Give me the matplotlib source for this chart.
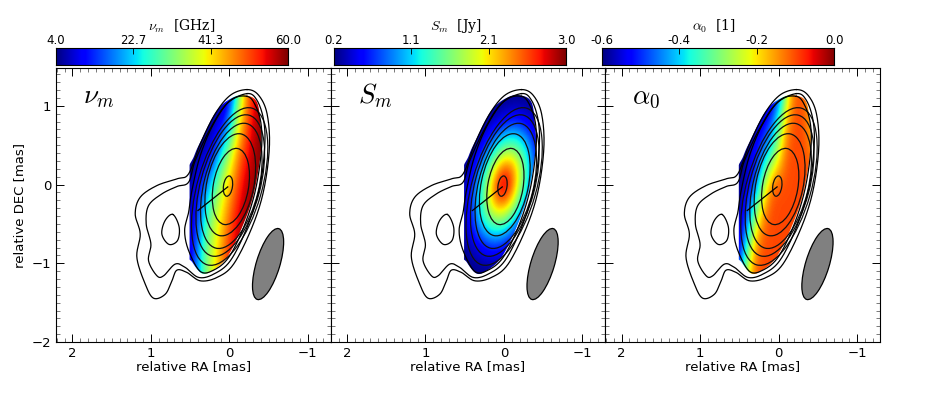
import matplotlib
matplotlib.use('Agg')
from matplotlib import pyplot as plt
from matplotlib.patches import Ellipse, Polygon
from matplotlib.ticker import MultipleLocator
import numpy as np

# grid of the colour maps
ra_cols = [0.6, 0.5, 0.4, 0.3, 0.2, 0.1, 0.0, -0.1, -0.2, -0.3, -0.4, -0.5, -0.6]

nu_m = [
    [4, 4, 4, 4, 4, 4, 8, 24, 43, 52, 58, 60, 60],
    [4, 4, 4, 4, 5, 8, 18, 36, 47, 55, 59, 60, 60],
    [4, 4, 5, 7, 12, 24, 35, 45, 52, 57, 60, 60, 60],
    [4, 6, 10, 17, 26, 36, 43, 50, 56, 58, 59, 60, 60],
    [4, 7, 14, 26, 35, 41, 48, 54, 58, 60, 60, 60, 60],
    [4, 8, 18, 30, 38, 45, 52, 57, 60, 60, 60, 60, 60],
    [5, 10, 20, 32, 40, 47, 54, 58, 60, 60, 60, 60, 60],
]

s_m = [
    [.20, .20, .20, .20, .20, .20, .20, .21, .21, .21, .20, .20, .20],
    [.20, .20, .20, .20, .21, .24, .28, .31, .32, .30, .26, .21, .20],
    [.20, .20, .20, .22, .30, .38, .55, .65, .62, .48, .36, .26, .21],
    [.20, .20, .23, .32, .55, .90, 1.12, 1.20, 1.12, .90, .55, .32, .23],
    [.20, .21, .30, .55, 1.03, 1.43, 1.76, 1.81, 1.57, 1.17, .72, .36, .24],
    [.20, .26, .45, .95, 1.47, 2.10, 2.50, 2.40, 1.87, 1.30, .75, .36, .23],
    [.21, .32, .65, 1.20, 1.83, 2.50, 2.90, 2.50, 1.83, 1.20, .65, .32, .21],
    [.23, .36, .75, 1.30, 1.87, 2.40, 2.50, 2.10, 1.47, .95, .45, .26, .20],
    [.24, .36, .72, 1.17, 1.57, 1.81, 1.76, 1.43, 1.03, .55, .30, .21, .20],
    [.23, .32, .55, .90, 1.12, 1.20, 1.12, .90, .55, .32, .23, .20, .20],
    [.21, .26, .36, .48, .62, .65, .55, .38, .30, .22, .20, .20, .20],
    [.20, .21, .26, .30, .32, .31, .28, .24, .21, .20, .20, .20, .20],
    [.20, .20, .20, .21, .21, .21, .20, .20, .20, .20, .20, .20, .20],
]

alpha_0 = [
    [-.6, -.6, -.6, -.6, -.6, -.6, -.5, -.25, -.12, -.11, -.17, -.2, -.22],
    [-.6, -.6, -.6, -.58, -.55, -.48, -.32, -.15, -.1, -.1, -.18, -.22, -.22],
    [-.6, -.6, -.58, -.52, -.45, -.36, -.22, -.11, -.1, -.1, -.13, -.18, -.2],
    [-.6, -.6, -.55, -.47, -.28, -.12, -.1, -.1, -.1, -.1, -.1, -.12, -.15],
    [-.6, -.58, -.46, -.28, -.13, -.1, -.1, -.1, -.1, -.1, -.1, -.1, -.1],
    [-.6, -.53, -.33, -.14, -.1, -.1, -.1, -.1, -.1, -.1, -.1, -.1, -.1],
    [-.55, -.42, -.2, -.11, -.1, -.1, -.1, -.1, -.1, -.1, -.1, -.1, -.1],
]

panel_names = [r'$\nu_m$', r'$S_m$', r'$\alpha_0$']
cbar_labels = [r'$\nu_m$  [GHz]', r'$S_m$  [Jy]', r'$\alpha_0$  [1]']
cbar_ranges = [(4.0, 60.0), (0.2, 3.0), (-0.6, 0.0)]
cbar_ticks = [['4.0', '22.7', '41.3', '60.0'],
              ['0.2', '1.1', '2.1', '3.0'],
              ['-0.6', '-0.4', '-0.2', '0.0']]

# contour lines in mas (RA, DEC)
outer_x = [-0.226, -0.374, -0.481, -0.511, -0.438, -0.289, -0.055, 0.157, 0.37, 0.54, 0.668, 0.732, 0.817,
           0.966, 1.072, 1.179, 1.136, 1.2, 1.136, 0.923, 0.668, 0.519, 0.37, 0.179, -0.013]
outer_y = [1.206, 1.134, 0.9, 0.476, -0.076, -0.544, -1.01, -1.18, -1.223, -1.117, -1.087, -1.223, -1.393,
           -1.444, -1.265, -0.926, -0.628, -0.374, -0.161, -0.013, 0.072, 0.136, 0.518, 0.9, 1.134]
second_x = [-0.226, -0.353, -0.438, -0.451, -0.387, -0.226, -0.013, 0.2, 0.391, 0.562, 0.689, 0.838, 0.923,
            1.03, 1.0, 1.06, 1.03, 0.86, 0.668, 0.519, 0.434, 0.243, 0.03]
second_y = [1.155, 1.07, 0.815, 0.476, -0.034, -0.544, -0.968, -1.138, -1.18, -1.053, -1.01, -1.159, -1.159,
            -0.968, -0.756, -0.5, -0.268, -0.119, -0.025, 0.03, 0.306, 0.709, 1.028]
third_x = [-0.226, -0.332, -0.404, -0.409, -0.332, -0.183, 0.009, 0.2, 0.37, 0.519, 0.57, 0.519, 0.477, 0.37, 0.2, -0.013]
third_y = [1.12, 1.006, 0.773, 0.433, -0.076, -0.544, -0.926, -1.087, -1.104, -0.84, -0.586, -0.352, -0.076, 0.37, 0.773, 1.07]
hole_x = [0.72, 0.64, 0.66, 0.77, 0.86, 0.82]
hole_y = [-0.38, -0.54, -0.71, -0.76, -0.63, -0.46]

# coloured region, cut off on the left at mask_left
mask_left = 0.507
mask_x = [0.56, 0.45, 0.37, 0.16, -0.055, -0.225, -0.353, -0.396, -0.404, -0.311, -0.162, 0.03, 0.221, 0.349, 0.47, 0.56]
mask_y = [0.05, 0.36, 0.54, 0.94, 1.11, 1.13, 1.045, 0.77, 0.433, -0.119, -0.544, -0.926, -1.096, -1.13, -0.99, -0.8]

# nested contours as ellipses: centre, width, height, tilt
ell_x = [0.017, -0.02, -0.012, -0.025, -0.012, -0.004]
ell_y = [-0.02, -0.025, -0.003, -0.017, -0.013, -0.025]
ell_w = [0.115, 0.45, 0.60, 0.70, 0.76, 0.82]
ell_h = [0.26, 0.98, 1.32, 1.63, 1.85, 2.07]
ell_ang = [8, 10, 12, 14, 15, 16]

jet_ra = [0.02, 0.40]
jet_dec = [-0.03, -0.33]

beam = (-0.494, -1.01, 0.30, 0.94, 17)

cbar_label_px = [182, 456, 714]


def smooth(xs, ys, n=16):
    # catmull-rom through the read points, closed
    p = np.column_stack([xs, ys])
    out = []
    for i in range(len(p)):
        p0, p1, p2, p3 = p[i - 1], p[i], p[(i + 1) % len(p)], p[(i + 2) % len(p)]
        for t in np.linspace(0, 1, n, endpoint=False):
            out.append(0.5 * (2 * p1 + (p2 - p0) * t + (2 * p0 - 5 * p1 + 4 * p2 - p3) * t ** 2
                              + (3 * p1 - p0 - 3 * p2 + p3) * t ** 3))
    out.append(out[0])
    return np.array(out)


def rect(x0, y0, x1, y1):
    # pixel box of the 926x405 picture to figure fractions
    return [x0 / 926, 1 - y1 / 405, (x1 - x0) / 926, (y1 - y0) / 405]


plt.rcParams['font.family'] = 'DejaVu Sans'
plt.rcParams['mathtext.fontset'] = 'cm'
fig = plt.figure(figsize=(9.26, 4.05), dpi=100)

fields = [nu_m, s_m, alpha_0]
ax_boxes = [(56, 68, 330.5, 342), (330.5, 68, 605, 342), (605, 68, 880, 342)]
cb_boxes = [(56, 48, 288, 65), (334, 48, 566, 65), (602, 48, 834, 65)]

for i in range(3):
    ax = fig.add_axes(rect(*ax_boxes[i]))
    z = np.array(fields[i], dtype=float)
    half = 1.2 / (z.shape[0] - 1)
    im = ax.imshow(z, cmap='jet', vmin=cbar_ranges[i][0], vmax=cbar_ranges[i][1], interpolation='bicubic',
                   extent=[ra_cols[0] + 0.05, ra_cols[-1] - 0.05, -1.2 - half, 1.2 + half], aspect='auto')
    m = smooth(mask_x, mask_y)
    m[:, 0] = np.minimum(m[:, 0], mask_left)
    clip = Polygon(m, closed=True, transform=ax.transData, fc='none', ec='none')
    ax.add_patch(clip)
    im.set_clip_path(clip)

    for xs, ys in [(outer_x, outer_y), (second_x, second_y), (third_x, third_y), (hole_x, hole_y)]:
        c = smooth(xs, ys)
        ax.plot(c[:, 0], c[:, 1], color='k', lw=0.9)
    for j in range(len(ell_x)):
        ax.add_patch(Ellipse((ell_x[j], ell_y[j]), ell_w[j], ell_h[j], angle=ell_ang[j], fc='none', ec='#111111', lw=0.9))
    ax.plot(jet_ra, jet_dec, color='k', lw=0.9)
    ax.add_patch(Ellipse(beam[:2], beam[2], beam[3], angle=beam[4], fc='#808080', ec='k', lw=0.9))

    ax.set_xlim(2.21, -1.29)
    ax.set_ylim(-2, 1.48)
    ax.xaxis.set_major_locator(MultipleLocator(1))
    ax.yaxis.set_major_locator(MultipleLocator(1))
    ax.xaxis.set_minor_locator(MultipleLocator(0.1))
    ax.yaxis.set_minor_locator(MultipleLocator(0.1))
    ax.tick_params(which='major', direction='in', top=True, right=True, length=6, width=0.7, labelsize=9.5)
    ax.tick_params(which='minor', direction='in', top=True, right=True, length=3, width=0.5, color='#444444')
    ax.set_xlabel('relative RA [mas]', fontsize=9.5, labelpad=0)
    if i == 0:
        ax.set_ylabel('relative DEC [mas]', fontsize=9.5, labelpad=4)
    else:
        ax.tick_params(labelleft=False)
    ax.text(0.1, 0.845, panel_names[i], transform=ax.transAxes, fontsize=19.5, ha='left', va='bottom')

    cax = fig.add_axes(rect(*cb_boxes[i]))
    grad = np.linspace(cbar_ranges[i][0], cbar_ranges[i][1], 256).reshape(1, -1)
    cax.imshow(grad, cmap='jet', aspect='auto', extent=[0, 3, 0, 1])
    cax.set_yticks([])
    cax.set_xticks([0, 1, 2, 3])
    cax.set_xticklabels(cbar_ticks[i], fontsize=8.5)
    cax.xaxis.tick_top()
    cax.tick_params(axis='x', direction='in', length=4, width=0.6, pad=1)
    fig.text(cbar_label_px[i] / 926, 1 - 26 / 405, cbar_labels[i], fontsize=10, family='serif', ha='center', va='center')

fig.savefig('out.png', dpi=100)
